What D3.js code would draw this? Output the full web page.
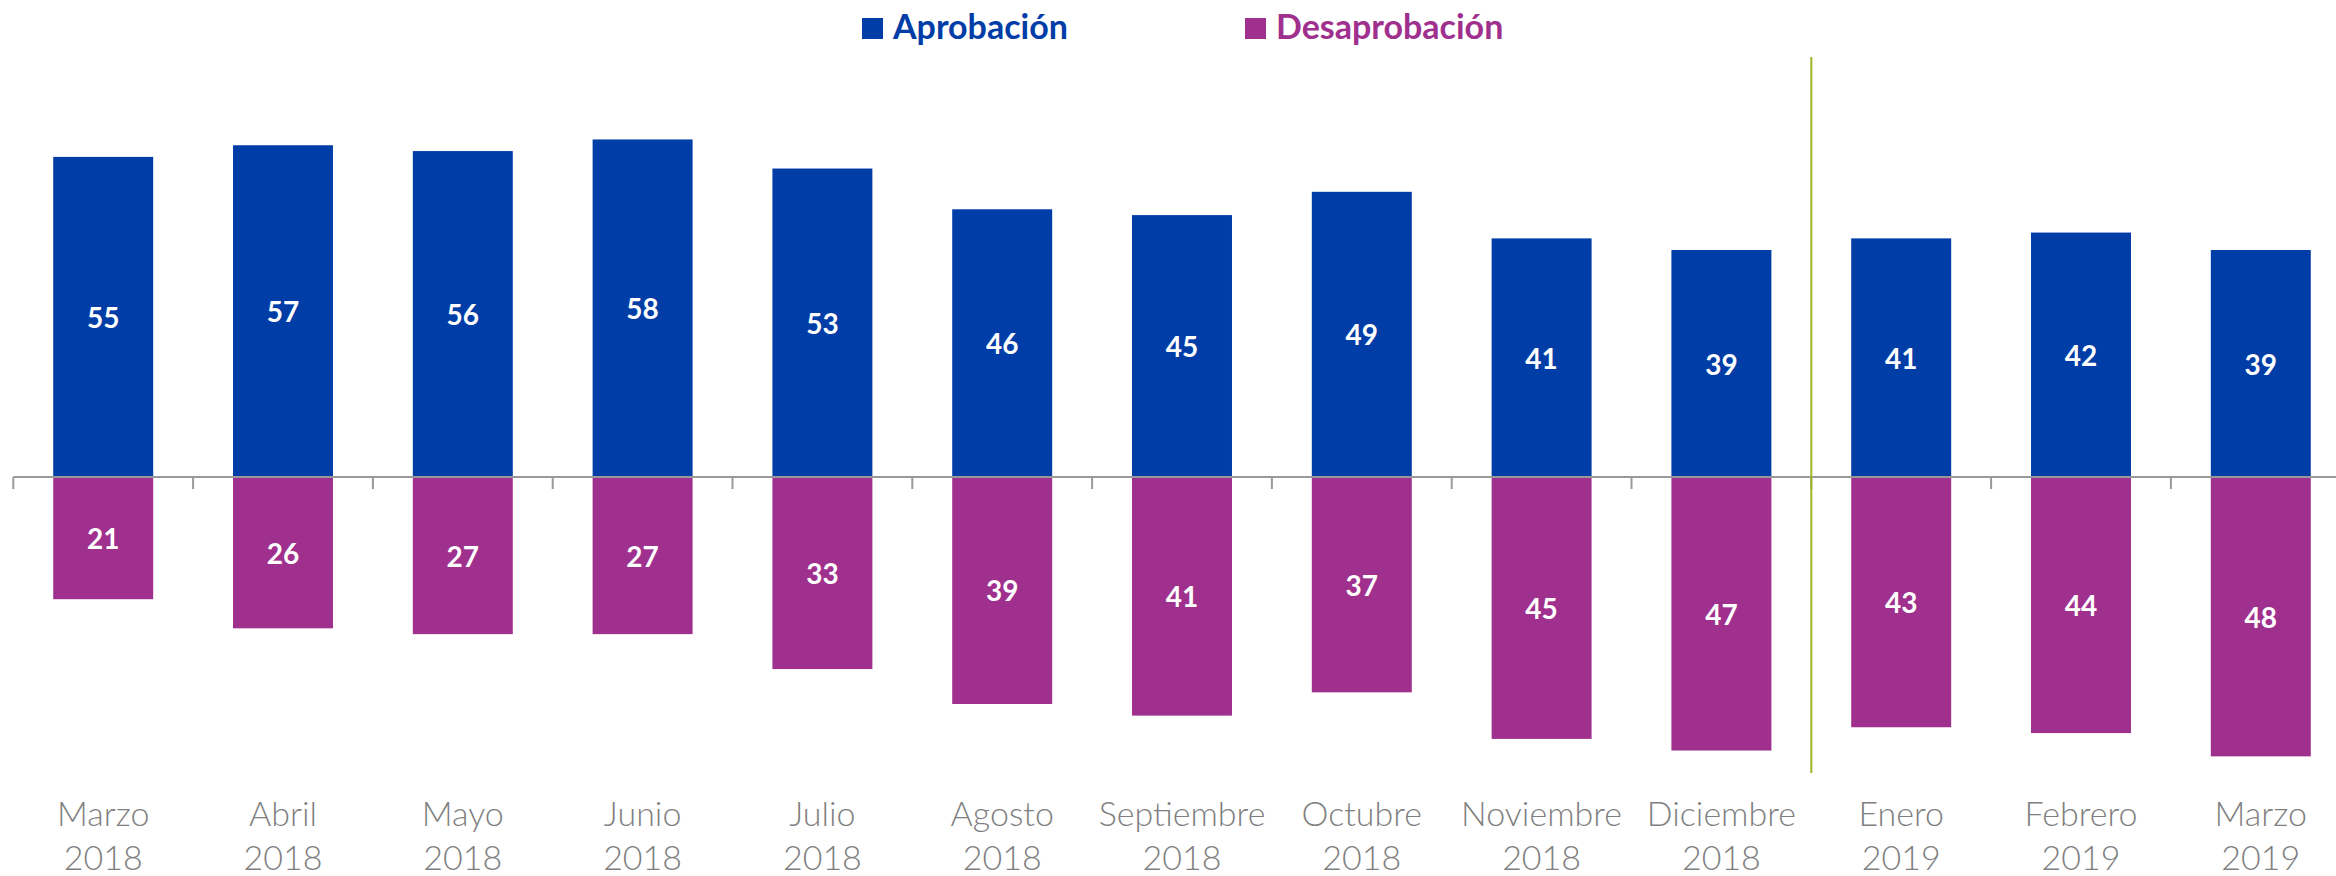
<!DOCTYPE html>
<html>
<head>
<meta charset="utf-8">
<script src="https://cdn.jsdelivr.net/npm/d3@7"></script>
<style>
  html, body { margin: 0; padding: 0; background: #fff; }
  svg { display: block; }
</style>
</head>
<body>
<svg id="chart" width="2336" height="876"></svg>
<script>
const months = ["Marzo","Abril","Mayo","Junio","Julio","Agosto","Septiembre","Octubre","Noviembre","Diciembre","Enero","Febrero","Marzo"];
const years = ["2018","2018","2018","2018","2018","2018","2018","2018","2018","2018","2019","2019","2019"];
const aprobacion = [55,57,56,58,53,46,45,49,41,39,41,42,39];
const desaprobacion = [21,26,27,27,33,39,41,37,45,47,43,44,48];
const seriesNames = ["Aprobación","Desaprobación"];
const colors = ["#003da6","#a0308e"];

const keys = months.map((m,i) => m + " " + years[i]);
const svg = d3.select("#chart");

const x0 = 13.3, step = 179.8;
const x = d3.scaleBand().domain(keys).range([x0, x0 + step*keys.length])
  .paddingInner(0.444).paddingOuter(0.222);
const zeroY = 477, ppu = 5.82;
const y = d3.scaleLinear().domain([-50, 60]).range([zeroY + 50*ppu, zeroY - 60*ppu]);

// bars
const g = svg.append("g");
keys.forEach((k,i) => {
  g.append("rect").attr("x", x(k)).attr("width", x.bandwidth())
    .attr("y", y(aprobacion[i])).attr("height", y(0) - y(aprobacion[i]))
    .attr("fill", colors[0]);
  g.append("rect").attr("x", x(k)).attr("width", x.bandwidth())
    .attr("y", y(0)).attr("height", y(-desaprobacion[i]) - y(0))
    .attr("fill", colors[1]);
});

// axis line and ticks
const ax = svg.append("g");
ax.append("line").attr("x1", x0).attr("x2", 2336).attr("y1", y(0)).attr("y2", y(0))
  .attr("stroke", "#999").attr("stroke-width", 2);
const bounds = d3.range(keys.length + 1).map(i => i < keys.length ? x(keys[i]) - x.step()*x.paddingInner()/2 : x(keys[keys.length-1]) + x.bandwidth() + x.step()*x.paddingInner()/2);
bounds.forEach(b => {
  ax.append("line").attr("x1", b).attr("x2", b).attr("y1", y(0)).attr("y2", y(0) + 12)
    .attr("stroke", "#999").attr("stroke-width", 2);
});

// separator line
const sep = bounds[10];
svg.append("line").attr("x1", sep).attr("x2", sep).attr("y1", 57).attr("y2", 773)
  .attr("stroke", "#9bb527").attr("stroke-width", 2);

// value labels
keys.forEach((k,i) => {
  const cx = x(k) + x.bandwidth()/2;
  svg.append("text").attr("x", cx).attr("y", (y(aprobacion[i]) + y(0))/2)
    .attr("text-anchor","middle").attr("dominant-baseline","central")
    .attr("font-family","Lato, 'Open Sans', sans-serif").attr("font-weight","bold")
    .attr("font-size", 28).attr("fill","#fff").text(aprobacion[i]);
  svg.append("text").attr("x", cx).attr("y", (y(-desaprobacion[i]) + y(0))/2)
    .attr("text-anchor","middle").attr("dominant-baseline","central")
    .attr("font-family","Lato, 'Open Sans', sans-serif").attr("font-weight","bold")
    .attr("font-size", 28).attr("fill","#fff").text(desaprobacion[i]);
});

// category labels
keys.forEach((k,i) => {
  const cx = x(k) + x.bandwidth()/2;
  const t = svg.append("text").attr("text-anchor","middle")
    .attr("font-family","Lato, 'Open Sans', sans-serif").attr("font-weight", 300)
    .attr("font-size", 34).attr("fill","#7f7f7f");
  t.append("tspan").attr("x", cx).attr("y", 826).text(months[i]);
  t.append("tspan").attr("x", cx).attr("y", 870).text(years[i]);
});

// legend
const legX = [862, 1245];
seriesNames.forEach((n,i) => {
  svg.append("rect").attr("x", legX[i]).attr("y", 18).attr("width", 21).attr("height", 21).attr("fill", colors[i]);
  svg.append("text").attr("x", legX[i] + 31).attr("y", 39)
    .attr("font-family","Lato, 'Open Sans', sans-serif").attr("font-weight","bold")
    .attr("font-size", 34).attr("fill", colors[i]).text(n);
});
</script>
</body>
</html>
